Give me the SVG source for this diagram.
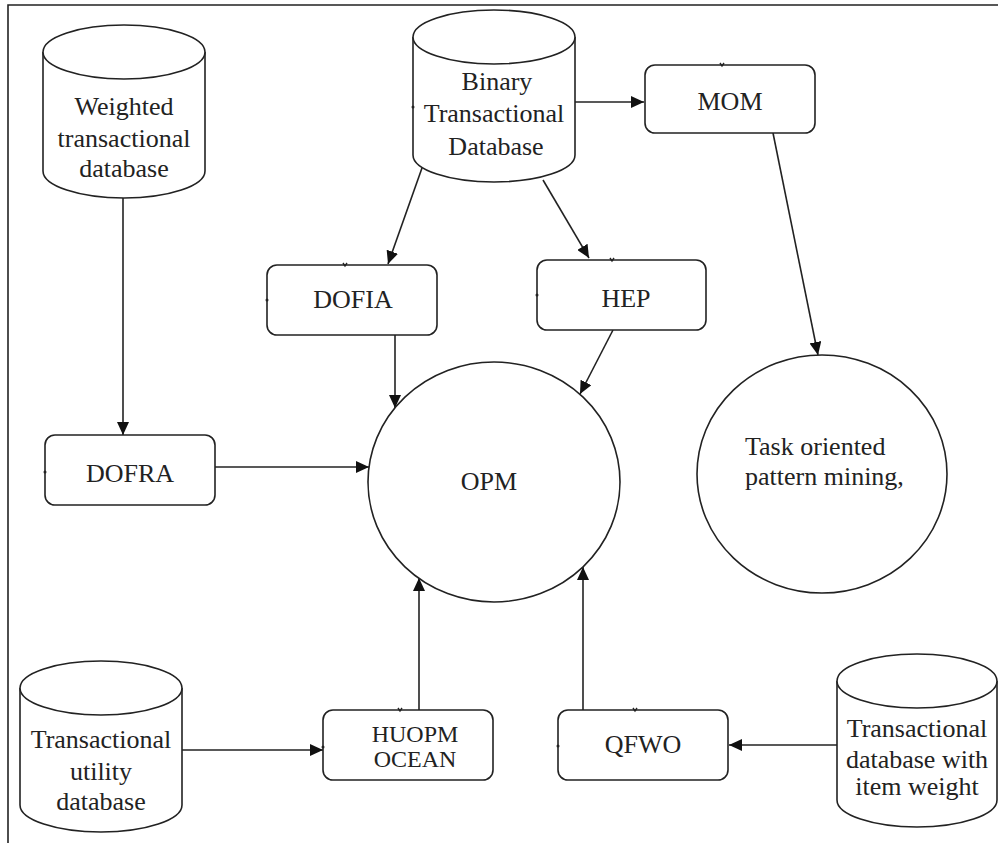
<svg xmlns="http://www.w3.org/2000/svg" width="998" height="843" viewBox="0 0 998 843">
<style>
.s{fill:#fff;stroke:#222;stroke-width:1.6}
.c{stroke:#222;stroke-width:1.6;fill:none}
.t{font-family:'Liberation Serif','DejaVu Serif',serif;font-size:26px;fill:#222;text-anchor:middle}
.sm{font-size:24px}
.tk{stroke:#222;stroke-width:1.4;fill:none}
</style>
<defs>
<marker id="ah" markerUnits="userSpaceOnUse" markerWidth="14" markerHeight="12" refX="13" refY="6" orient="auto">
<path d="M0,0 L13,6 L0,12 z" fill="#111"/>
</marker>
</defs>
<rect width="998" height="843" fill="#fff"/>
<g id="frame"><path class="c" d="M998,5 H8 V843"/></g>

<g id="connectors">
<line class="c" x1="123" y1="198" x2="123" y2="435" marker-end="url(#ah)"/>
<line class="c" x1="422" y1="168" x2="388" y2="264" marker-end="url(#ah)"/>
<line class="c" x1="543" y1="180" x2="589" y2="258" marker-end="url(#ah)"/>
<line class="c" x1="575" y1="102" x2="644" y2="102" marker-end="url(#ah)"/>
<line class="c" x1="773" y1="133" x2="818" y2="355" marker-end="url(#ah)"/>
<line class="c" x1="395" y1="335" x2="395" y2="408" marker-end="url(#ah)"/>
<line class="c" x1="613" y1="330" x2="580" y2="394" marker-end="url(#ah)"/>
<line class="c" x1="215" y1="467" x2="369" y2="467" marker-end="url(#ah)"/>
<line class="c" x1="419" y1="710" x2="419" y2="578" marker-end="url(#ah)"/>
<line class="c" x1="583" y1="710" x2="583" y2="567" marker-end="url(#ah)"/>
<line class="c" x1="178" y1="750" x2="323" y2="750" marker-end="url(#ah)"/>
<line class="c" x1="837" y1="745" x2="729" y2="745" marker-end="url(#ah)"/>
</g>

<g id="weighted-db">
<path class="s" d="M43,52 V171 A81,27 0 0 0 205,171 V52"/>
<ellipse class="s" cx="124" cy="52" rx="81" ry="27"/>
<text class="t" x="124" y="115">Weighted</text>
<text class="t" x="124" y="147">transactional</text>
<text class="t" x="124" y="177">database</text>
</g>

<g id="binary-db">
<path class="s" d="M413,37 V155 A81,27 0 0 0 575,155 V37"/>
<ellipse class="s" cx="494" cy="37" rx="81" ry="27"/>
<text class="t" x="497" y="90">Binary</text>
<text class="t" x="494" y="122">Transactional</text>
<text class="t" x="496" y="155">Database</text>
</g>

<g id="mom">
<rect class="s" x="645" y="65" width="170" height="68" rx="10"/>
<text class="t" x="730" y="110">MOM</text>
</g>

<g id="dofia">
<rect class="s" x="267" y="265" width="170" height="70" rx="10"/>
<text class="t" x="353" y="308">DOFIA</text>
</g>

<g id="hep">
<rect class="s" x="537" y="260" width="169" height="70" rx="10"/>
<text class="t" x="626" y="307">HEP</text>
</g>

<g id="dofra">
<rect class="s" x="45" y="435" width="170" height="70" rx="10"/>
<text class="t" x="130" y="482">DOFRA</text>
</g>

<g id="opm">
<ellipse class="s" cx="494" cy="482" rx="126" ry="120"/>
<text class="t" x="489" y="490">OPM</text>
</g>

<g id="task">
<ellipse class="s" cx="822" cy="474" rx="125" ry="119"/>
<text class="t" x="745" y="455" style="text-anchor:start">Task oriented</text>
<text class="t" x="745" y="485" style="text-anchor:start">pattern mining,</text>
</g>

<g id="utility-db">
<path class="s" d="M20,688 V805 A81,27 0 0 0 182,805 V688"/>
<ellipse class="s" cx="101" cy="688" rx="81" ry="27"/>
<text class="t" x="101" y="748">Transactional</text>
<text class="t" x="101" y="780">utility</text>
<text class="t" x="101" y="810">database</text>
</g>

<g id="huopm">
<rect class="s" x="323" y="710" width="170" height="70" rx="10"/>
<text class="t sm" x="415" y="742">HUOPM</text>
<text class="t sm" x="415" y="767">OCEAN</text>
</g>

<g id="qfwo">
<rect class="s" x="558" y="710" width="170" height="70" rx="10"/>
<text class="t" x="643" y="753">QFWO</text>
</g>

<g id="itemweight-db">
<path class="s" d="M837,681 V800 A80,27 0 0 0 997,800 V681"/>
<ellipse class="s" cx="917" cy="681" rx="80" ry="27"/>
<text class="t" x="917" y="737">Transactional</text>
<text class="t" x="917" y="768">database with</text>
<text class="t" x="917" y="795">item weight</text>
</g>

<g id="ticks">
<path class="tk" d="M343,263 l2,3 l2,-3"/>
<path class="tk" d="M720,63 l2,3 l2,-3"/>
<path class="tk" d="M610,258 l2,3 l2,-3"/>
<path class="tk" d="M398,708 l2,3 l2,-3"/>
<path class="tk" d="M633,708 l2,3 l2,-3"/>
<circle cx="267" cy="300" r="1.5" fill="#222"/>
<circle cx="537" cy="295" r="1.5" fill="#222"/>
<circle cx="45" cy="472" r="1.5" fill="#222"/>
<circle cx="323" cy="747" r="1.5" fill="#222"/>
<circle cx="558" cy="746" r="1.5" fill="#222"/>
<circle cx="413" cy="107" r="1.5" fill="#222"/>
</g>
</svg>
